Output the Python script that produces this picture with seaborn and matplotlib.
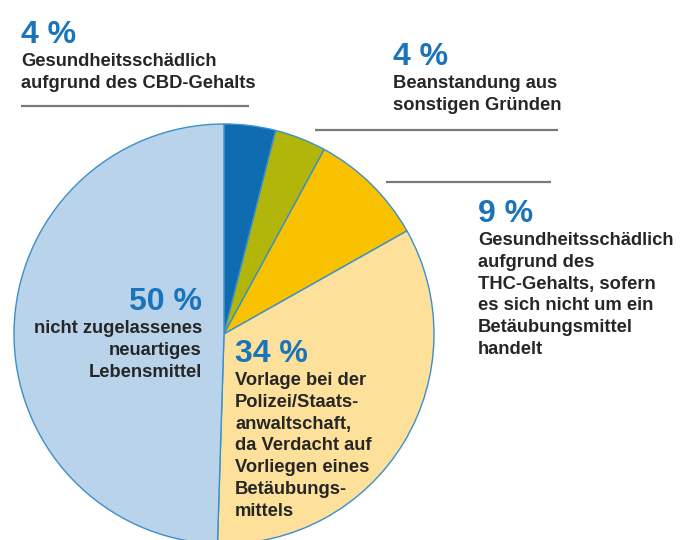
import matplotlib
matplotlib.use("Agg")
import matplotlib.pyplot as plt
import seaborn as sns

# shares in percent, clockwise from the top
shares = [4, 4, 9, 34, 50]
pct_labels = ["4 %", "4 %", "9 %", "34 %", "50 %"]
slice_colors = ["#0f6cb0", "#b3b60a", "#f8c200", "#fde09a", "#b8d3ea"]
descriptions = [
    ["Gesundheitsschädlich", "aufgrund des CBD-Gehalts"],
    ["Beanstandung aus", "sonstigen Gründen"],
    ["Gesundheitsschädlich", "aufgrund des", "THC-Gehalts, sofern",
     "es sich nicht um ein", "Betäubungsmittel", "handelt"],
    ["Vorlage bei der", "Polizei/Staats-", "anwaltschaft,",
     "da Verdacht auf", "Vorliegen eines", "Betäubungs-", "mittels"],
    ["nicht zugelassenes", "neuartiges", "Lebensmittel"],
]

sns.set_theme(style="white")
plt.rcParams["font.family"] = ["Liberation Sans", "DejaVu Sans"]

fig = plt.figure(figsize=(6.86, 5.40), dpi=100)
ax = fig.add_axes([0, 0, 1, 1])

# y axis runs downward (pixel-like coords), so counterclock=True draws clockwise
ax.pie(shares, colors=slice_colors, startangle=-90, counterclock=True,
       center=(224, 334), radius=210,
       wedgeprops=dict(edgecolor="#3b8fcb", linewidth=1.0))
ax.set_xlim(0, 686)
ax.set_ylim(540, 0)
ax.set_aspect("equal")
ax.axis("off")

blue = "#1a74bb"
dark = "#262626"
step = 21.8


def block(i, x, base, ha="left"):
    ax.text(x, base, pct_labels[i], color=blue, fontsize=23, fontweight="bold",
            ha=ha, va="baseline")
    for k, line in enumerate(descriptions[i]):
        ax.text(x, base + 23 + k * step, line, color=dark, fontsize=13.2,
                fontweight="bold", ha=ha, va="baseline")


block(0, 21, 43)
block(1, 393, 65)
block(2, 478, 222)
block(3, 235, 362)
block(4, 202, 310, ha="right")

# separator lines
for x0, x1, y in [(21, 249, 106), (315, 558, 130), (386, 551, 182)]:
    ax.plot([x0, x1], [y, y], color="#7a7a7a", lw=1.6, solid_capstyle="butt")

fig.savefig("out.png", dpi=100)
